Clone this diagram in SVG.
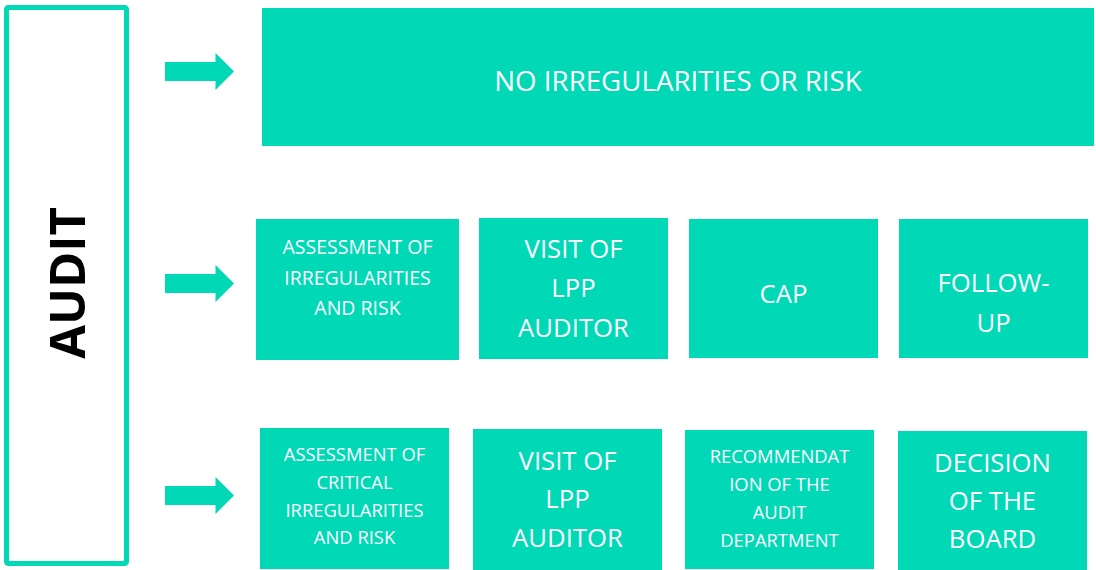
<svg xmlns="http://www.w3.org/2000/svg" width="1096" height="570" viewBox="0 0 1096 570">
  <style>
    .box { fill: #00D8B6; }
    .arrow { fill: #00D8B6; }
    .t { font-family: "Open Sans", "Noto Sans", sans-serif; fill: #FFFFFF; text-anchor: middle; }
    .sm { font-size: 19.5px; }
    .sm3 { font-size: 18.4px; }
    .lg { font-size: 25.7px; }
    .title { font-size: 27.7px; }
    .audit { font-family: "Open Sans", "Noto Sans", sans-serif; font-weight: bold; font-size: 49px; fill: #000000; text-anchor: middle; }
  </style>
  <defs>
    <!-- block arrow, tip at the origin -->
    <path id="blockArrow" d="M-69,-9.5 H-18.5 V-18.5 L0,0 L-18.5,18.5 V9.5 H-69 Z"/>
  </defs>

  <!-- left frame with vertical label -->
  <g id="audit">
    <rect x="6.5" y="7.5" width="120" height="556" rx="2" fill="none" stroke="#00D8B6" stroke-width="5"/>
    <text class="audit" transform="translate(84.5,283) rotate(-90)" x="0" y="0">AUDIT</text>
  </g>

  <!-- arrows into each row -->
  <g id="connectors">
    <use href="#blockArrow" class="arrow" x="234" y="71.5"/>
    <use href="#blockArrow" class="arrow" x="234" y="283.5"/>
    <use href="#blockArrow" class="arrow" x="234" y="495.5"/>
  </g>

  <!-- row 1 -->
  <g id="no-irregularities">
    <rect class="box" x="262" y="8" width="832" height="138"/>
    <text class="t title" x="678" y="90.5">NO IRREGULARITIES OR RISK</text>
  </g>

  <!-- row 2 -->
  <g id="assessment">
    <rect class="box" x="256" y="219" width="203" height="141"/>
    <text class="t sm" x="357.5" y="254.3">ASSESSMENT OF</text>
    <text class="t sm" x="357.5" y="285.3">IRREGULARITIES</text>
    <text class="t sm" x="357.5" y="315.3">AND RISK</text>
  </g>
  <g id="visit-1">
    <rect class="box" x="479" y="218" width="189" height="141"/>
    <text class="t lg" x="573.5" y="257.7">VISIT OF</text>
    <text class="t lg" x="573.5" y="297.2">LPP</text>
    <text class="t lg" x="573.5" y="336.7">AUDITOR</text>
  </g>
  <g id="cap">
    <rect class="box" x="689" y="219" width="189" height="139"/>
    <text class="t lg" x="783.5" y="302.7">CAP</text>
  </g>
  <g id="follow-up">
    <rect class="box" x="899" y="219" width="189" height="139"/>
    <text class="t lg" x="993.5" y="292.3">FOLLOW-</text>
    <text class="t lg" x="993.5" y="331.7">UP</text>
  </g>

  <!-- row 3 -->
  <g id="assessment-critical">
    <rect class="box" x="260" y="428" width="189" height="141"/>
    <text class="t sm3" x="354.5" y="460.7">ASSESSMENT OF</text>
    <text class="t sm3" x="354.5" y="488.7">CRITICAL</text>
    <text class="t sm3" x="354.5" y="516.7">IRREGULARITIES</text>
    <text class="t sm3" x="354.5" y="544.3">AND RISK</text>
  </g>
  <g id="visit-2">
    <rect class="box" x="473" y="429" width="189" height="141"/>
    <text class="t lg" x="567.5" y="470">VISIT OF</text>
    <text class="t lg" x="567.5" y="508.3">LPP</text>
    <text class="t lg" x="567.5" y="546.7">AUDITOR</text>
  </g>
  <g id="recommendation">
    <rect class="box" x="685" y="430" width="189" height="139"/>
    <text class="t sm3" x="779.5" y="463.3">RECOMMENDAT</text>
    <text class="t sm3" x="779.5" y="490.7">ION OF THE</text>
    <text class="t sm3" x="779.5" y="519">AUDIT</text>
    <text class="t sm3" x="779.5" y="546.7">DEPARTMENT</text>
  </g>
  <g id="decision">
    <rect class="box" x="898" y="431" width="189" height="139"/>
    <text class="t lg" x="992.5" y="472.3">DECISION</text>
    <text class="t lg" x="992.5" y="510">OF THE</text>
    <text class="t lg" x="992.5" y="548.3">BOARD</text>
  </g>
</svg>
